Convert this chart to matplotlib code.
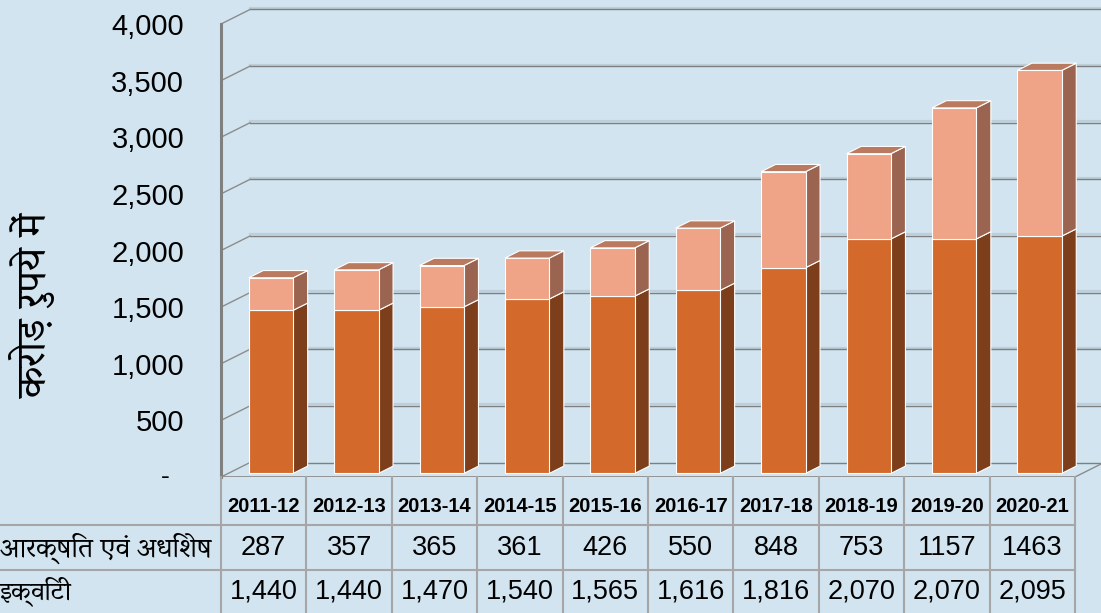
import matplotlib
matplotlib.use("Agg")
import matplotlib.pyplot as plt
import matplotlib.patches as patches
from matplotlib import font_manager, ft2font

years = ["2011-12", "2012-13", "2013-14", "2014-15", "2015-16",
         "2016-17", "2017-18", "2018-19", "2019-20", "2020-21"]
reserves = [287, 357, 365, 361, 426, 550, 848, 753, 1157, 1463]
equity = [1440, 1440, 1470, 1540, 1565, 1616, 1816, 2070, 2070, 2095]
reserves_txt = ["287", "357", "365", "361", "426", "550", "848", "753", "1157", "1463"]
row_labels = ["आरक्षित एवं अधिशेष", "इक्विटी"]
y_label = "करोड़ रुपये में"
y_ticks = [0, 500, 1000, 1500, 2000, 2500, 3000, 3500, 4000]

BG = "#D1E4F0"
GRID = "#7F7F7F"
EQ_FRONT, EQ_SIDE = "#D3692A", "#7D3F1B"
RS_FRONT, RS_SIDE, RS_TOP = "#F0A487", "#9A6450", "#B97A5F"


def find_deva_font(sample, target_em):
    # pick the installed devanagari font whose width for the sample is closest to the original
    best, best_d = None, None
    for f in font_manager.fontManager.ttflist:
        try:
            ft = ft2font.FT2Font(f.fname)
            if not (ft.get_char_index(0x0915) and ft.get_char_index(0x094D)):
                continue
            ft.set_size(100, 72)
            w = 0
            for c in sample:
                g = ft.load_char(ord(c))
                w += g.linearHoriAdvance / 65536
            d = abs(w / 100 - target_em)
            if best_d is None or d < best_d:
                best, best_d = f.name, d
        except Exception:
            pass
    return best


# original label: ~212 px wide at ~26 px font size
deva = find_deva_font(row_labels[0], 212 / 26.4)
deva_family = [deva, "DejaVu Sans"] if deva else ["DejaVu Sans"]
num_font = "Liberation Sans"

W, H = 1101, 613
fig = plt.figure(figsize=[W / 100, H / 100], dpi=100)
fig.patch.set_facecolor(BG)

# main (3d looking) plot area in pixels: x 221..1101, y 0..477
ax = fig.add_axes([221 / W, (H - 477) / H, (W - 221) / W, 477 / H])
ax.set_facecolor(BG)
for s in ax.spines.values():
    s.set_visible(False)

px_per_cat = (1075 - 221) / 10
px_per_val = (477 - 24) / 4000
ax.set_xlim(-0.5, -0.5 + (W - 221) / px_per_cat)
ax.set_ylim(0, 477 / px_per_val)

DX = 29 / px_per_cat
DY = 14.5 / px_per_val

# back wall gridlines + diagonal ticks
xr = ax.get_xlim()[1]
for v in y_ticks:
    if v > 0:
        ax.plot([-0.5 + DX, xr], [v + DY + 14, v + DY + 14], color="#BCCFDB", lw=1.6, zorder=1)
    ax.plot([-0.5 + DX, xr], [v + DY, v + DY], color=GRID, lw=1.0, zorder=1)
    ax.plot([-0.5, -0.5 + DX], [v, v + DY], color="#8C8C8C", lw=1.0, zorder=1)
# floor front edge and right end
ax.plot([-0.5, 9.5], [0, 0], color="#8C8C8C", lw=2.0, zorder=1)
ax.plot([9.5, 9.5 + DX], [0, DY], color="#8C8C8C", lw=1.0, zorder=1)
ax.plot([-0.5, -0.5], [0, 4000], color="#808080", lw=2.2, zorder=1, clip_on=False)

# bars
bw = 0.52
f0, f1 = 0.25, 0.75
sdx, sdy = (f1 - f0) * DX, (f1 - f0) * DY


def draw_seg(i, yb, yt, front, side, top=None):
    x0 = i - bw / 2 + f0 * DX
    x1 = i + bw / 2 + f0 * DX
    yb2, yt2 = yb + f0 * DY, yt + f0 * DY
    ax.add_patch(patches.Polygon([(x1, yb2), (x1 + sdx, yb2 + sdy), (x1 + sdx, yt2 + sdy), (x1, yt2)],
                                 closed=True, fc=side, ec="white", lw=0.8, zorder=3))
    ax.add_patch(patches.Rectangle((x0, yb2), x1 - x0, yt2 - yb2, fc=front, ec="white", lw=0.8, zorder=4))
    if top is not None:
        ax.add_patch(patches.Polygon([(x0, yt2), (x1, yt2), (x1 + sdx, yt2 + sdy), (x0 + sdx, yt2 + sdy)],
                                     closed=True, fc=top, ec="white", lw=0.8, zorder=4))


for i in range(len(years)):
    draw_seg(i, 0, equity[i], EQ_FRONT, EQ_SIDE)
    draw_seg(i, equity[i], equity[i] + reserves[i], RS_FRONT, RS_SIDE, RS_TOP)

# y tick labels
ax.set_xticks([])
ax.set_yticks(y_ticks)
ax.set_yticklabels([""] + [f"{v:,}" for v in y_ticks[1:]], fontsize=21, family=num_font)
ax.tick_params(axis="y", length=0, pad=26.5)
ax.text(-0.5 - 56 / px_per_cat, 0, "-", ha="center", va="center", fontsize=19, family=num_font)
ylab = ax.text(-0.5 - 188 / px_per_cat, (477 - 306) / px_per_val, y_label,
               rotation=90, ha="center", va="center", fontsize=24, family=deva_family, clip_on=False)

# data table under the chart, sharing the category x scale
tax = fig.add_axes([221 / W, 0, (W - 221) / W, (H - 477) / H], sharex=ax)
tax.set_ylim(H - 477, 0)
tax.axis("off")
lc = "#A6A6A6"
for k in range(11):
    tax.plot([k - 0.5, k - 0.5], [0, H - 477], color=lc, lw=1.5, clip_on=False)
x_left = -0.5 - 221 / px_per_cat
for yy in [525 - 477, 570 - 477]:
    tax.plot([x_left, 9.5], [yy, yy], color=lc, lw=1.5, clip_on=False)
for i, yr in enumerate(years):
    tax.text(i, 506 - 477, yr, ha="center", va="center", fontsize=14.5, fontweight="bold", family=num_font)
    tax.text(i, 548 - 477, reserves_txt[i], ha="center", va="center", fontsize=19.5, family=num_font)
    tax.text(i, 591 - 477, f"{equity[i]:,}", ha="center", va="center", fontsize=19.5, family=num_font)
lab1 = tax.text(x_left, 548 - 477, row_labels[0], ha="left", va="center", fontsize=19,
                family=deva_family, clip_on=False)
lab2 = tax.text(x_left, 591 - 477, row_labels[1], ha="left", va="center", fontsize=19,
                family=deva_family, clip_on=False)

# no text shaping for devanagari here, so fit texts to the extent they take in the original
fig.canvas.draw()
r = fig.canvas.get_renderer()
for t, target, vert in [(lab1, 212, False), (lab2, 72, False), (ylab, 208, True)]:
    bb = t.get_window_extent(r)
    size = bb.height if vert else bb.width
    k = min(max(target / size, 0.75), 1.25)
    t.set_fontsize(t.get_fontsize() * k)

fig.savefig("out.png", dpi=100, facecolor=BG)
